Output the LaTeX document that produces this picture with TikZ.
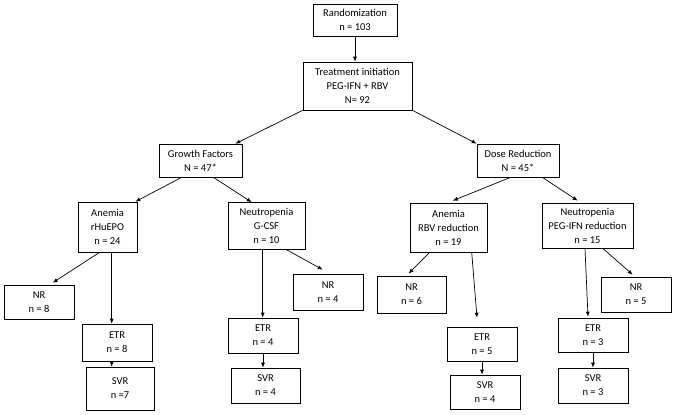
\documentclass[tikz,border=0pt]{standalone}
\usepackage{fontspec}
\setmainfont{Carlito}
\usetikzlibrary{arrows.meta}

\begin{document}
\begin{tikzpicture}[x=1pt, y=-1pt, >={Latex[length=5pt,width=4pt]},
  box/.style 2 args={draw, line width=0.6pt, align=center, inner sep=0pt,
    minimum width=#1pt, minimum height=#2pt, font=\fontsize{10.5}{14}\selectfont},
  every path/.style={line width=0.7pt}]
  \useasboundingbox (0,0) rectangle (675,415);
  % top of the chart
  \node[box={84}{32}] (rand) at (355,20) {Randomization\\n = 103};
  \node[box={109}{48}] (treat) at (357.5,86) {Treatment initiation\\PEG-IFN + RBV\\N= 92};
  \node[box={83}{33}] (gf) at (200.5,160.5) {Growth Factors\\N = 47*};
  \node[box={82}{33}] (dr) at (518,160.5) {Dose Reduction\\N = 45*};
  % growth factors branch
  \node[box={59}{50}] (anemia) at (107.5,227) {Anemia\\rHuEPO\\n = 24};
  \node[box={77}{47}] (gcsf) at (266.5,226) {Neutropenia\\G-CSF\\n = 10};
  \node[box={70}{34}] (nr8) at (39,302) {NR\\n = 8};
  \node[box={70}{37}] (etr8) at (117,342.5) {ETR\\n = 8};
  \node[box={68}{43}] (svr7) at (120,388.5) {SVR\\n =7};
  \node[box={70}{36}] (nr4) at (328,292) {NR\\n = 4};
  \node[box={70}{35}] (etr4) at (263,335.5) {ETR\\n = 4};
  \node[box={69}{35}] (svr4) at (265.5,385.5) {SVR\\n = 4};
  % dose reduction branch
  \node[box={77}{49}] (rbv) at (448.5,227.5) {Anemia\\RBV reduction\\n = 19};
  \node[box={91}{45}] (peg) at (587.5,225.5) {Neutropenia\\PEG-IFN reduction\\n = 15};
  \node[box={69}{37}] (nr6) at (411.5,294.5) {NR\\n = 6};
  \node[box={70}{34}] (etr5) at (482,344) {ETR\\n = 5};
  \node[box={70}{34}] (svr4b) at (485,392) {SVR\\n = 4};
  \node[box={70}{35}] (nr5) at (636,294.5) {NR\\n = 5};
  \node[box={70}{34}] (etr3) at (593,335) {ETR\\n = 3};
  \node[box={70}{35}] (svr3) at (593,385.5) {SVR\\n = 3};

  \draw[->] (rand.south) -- (rand.south |- treat.north);
  \draw[->] (treat.south west) -- ([xshift=-7pt]gf.north east);
  \draw[->] (treat.south east) -- (dr.north west);
  \draw[->] ([xshift=23pt]gf.south west) -- ([xshift=-2pt]anemia.north east);
  \draw[->] ([xshift=-29pt]gf.south east) -- ([xshift=24pt]gcsf.north west);
  \draw[->] ([xshift=22pt]anemia.south west) -- ([xshift=49pt,yshift=2pt]nr8.north west);
  \draw[->] ([xshift=34pt]anemia.south west) -- ([xshift=34pt]anemia.south west |- etr8.north);
  \draw[->] ([xshift=30pt]etr8.south west) -- ([xshift=30pt]etr8.south west |- svr7.north);
  \draw[->] ([xshift=35pt]gcsf.south west) -- ([xshift=35pt]gcsf.south west |- etr4.north);
  \draw[->] ([xshift=59pt]gcsf.south west) -- ([xshift=30pt,yshift=4pt]nr4.north west);
  \draw[->] (etr4.south) -- (etr4.south |- svr4.north);
  \draw[->] ([xshift=34pt]dr.south west) -- ([xshift=43pt,yshift=2pt]rbv.north west);
  \draw[->] ([xshift=-17pt]dr.south east) -- ([xshift=36pt,yshift=2pt]peg.north west);
  \draw[->] ([xshift=20pt]rbv.south west) -- ([xshift=-3pt,yshift=2pt]nr6.north);
  \draw[->] ([xshift=62pt]rbv.south west) -- ([xshift=-5pt,yshift=9pt]etr5.north);
  \draw[->] (etr5.south) -- (etr5.south |- svr4b.north);
  \draw[->] ([xshift=-2.5pt]peg.south) -- ([xshift=-5pt,yshift=1pt]etr3.north);
  \draw[->] ([xshift=61pt]peg.south west) -- ([xshift=32pt,yshift=2pt]nr5.north west);
  \draw[->] (etr3) -- (svr3);
\end{tikzpicture}
\end{document}
